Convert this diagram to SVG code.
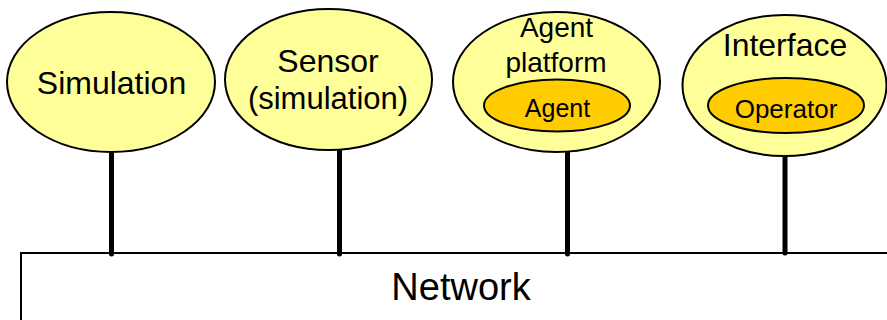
<svg xmlns="http://www.w3.org/2000/svg" width="887" height="320" viewBox="0 0 887 320">
<style>
.outer{fill:#FFFF99;stroke:#000;stroke-width:2}
.inner{fill:#FFCC00;stroke:#000;stroke-width:2}
.t{font-family:"Liberation Sans",Arial,sans-serif;fill:#000;text-anchor:middle}
.link{stroke:#000;stroke-width:5;stroke-linecap:round}
</style>
<rect width="887" height="320" fill="#fff"/>
<g id="network">
<rect x="21" y="253" width="880" height="80" fill="#fff" stroke="#000" stroke-width="2"/>
<text class="t" x="461" y="300" font-size="38">Network</text>
</g>
<g id="connectors">
<line class="link" x1="111.5" y1="152" x2="111.5" y2="254"/>
<line class="link" x1="339.5" y1="150" x2="339.5" y2="254"/>
<line class="link" x1="567.5" y1="151" x2="567.5" y2="254"/>
<line class="link" x1="785" y1="156" x2="785" y2="253" stroke-linecap="butt"/>
</g>
<g id="simulation">
<ellipse class="outer" cx="111" cy="82" rx="104" ry="70"/>
<text class="t" x="111.5" y="94" font-size="32">Simulation</text>
</g>
<g id="sensor">
<ellipse class="outer" cx="328.5" cy="79.5" rx="103.5" ry="70.5"/>
<text class="t" x="328" y="72" font-size="32">Sensor</text>
<text class="t" x="328" y="109" font-size="31">(simulation)</text>
</g>
<g id="agent-platform">
<ellipse class="outer" cx="556.5" cy="82" rx="103.5" ry="70"/>
<text class="t" x="556.5" y="37" font-size="28">Agent</text>
<text class="t" x="556" y="72" font-size="28">platform</text>
<g id="agent">
<ellipse class="inner" cx="557" cy="105.5" rx="73" ry="26"/>
<text class="t" x="557.5" y="117" font-size="25">Agent</text>
</g>
</g>
<g id="interface">
<ellipse class="outer" cx="784.5" cy="85.5" rx="102" ry="70.5"/>
<text class="t" x="785" y="56" font-size="32">Interface</text>
<g id="operator">
<ellipse class="inner" cx="786" cy="105.5" rx="78" ry="27.5"/>
<text class="t" x="786" y="118" font-size="26">Operator</text>
</g>
</g>
</svg>
